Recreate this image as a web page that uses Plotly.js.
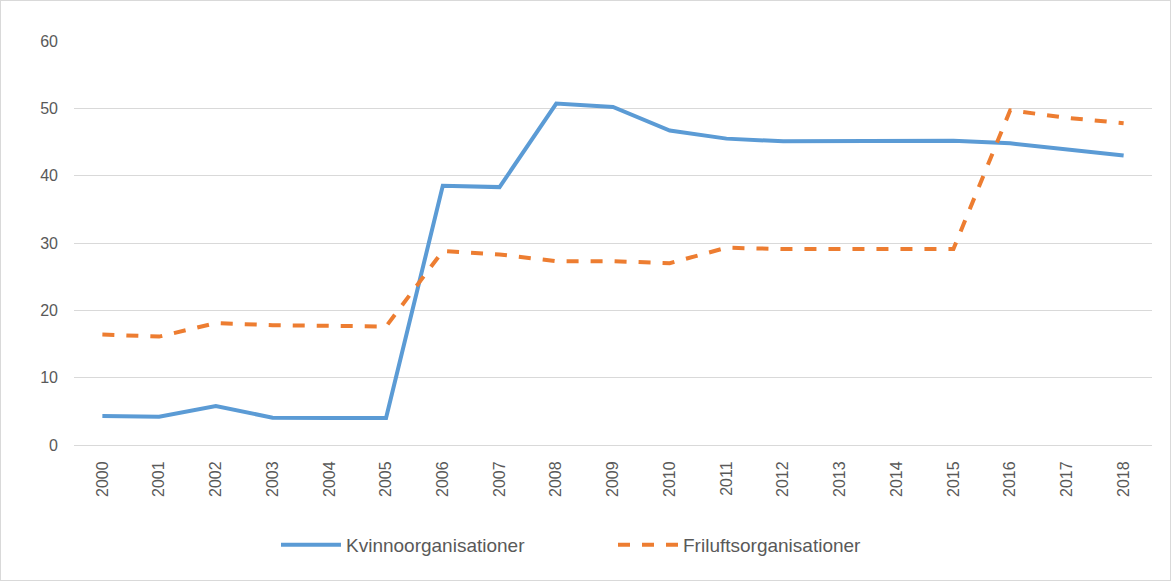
<!DOCTYPE html>
<html>
<head>
<meta charset="utf-8">
<script src="https://cdn.plot.ly/plotly-3.0.1.min.js"></script>
<style>
html,body{margin:0;padding:0;background:#fff;}
#chart{width:1169px;height:579px;border:1px solid #d9d9d9;}
</style>
</head>
<body>
<div id="chart"></div>
<script>
var years = ["2000","2001","2002","2003","2004","2005","2006","2007","2008","2009","2010","2011","2012","2013","2014","2015","2016","2017","2018"];
var kvinno = [4.3,4.2,5.8,4.05,4.0,4.0,38.5,38.3,50.7,50.2,46.7,45.5,45.1,45.1,45.2,45.2,44.8,43.9,43.0];
var frilufts = [16.4,16.1,18.1,17.8,17.7,17.6,28.8,28.3,27.3,27.3,27.0,29.3,29.1,29.1,29.1,29.1,49.7,48.6,47.8];
var yTicks = [0,10,20,30,40,50,60];

var font = "Liberation Sans, Arial, sans-serif";
var traces = [
  {x: years, y: kvinno, type: "scatter", mode: "lines", name: "Kvinnoorganisationer",
   line: {color: "#5b9bd5", width: 4, shape: "linear"}},
  {x: years, y: frilufts, type: "scatter", mode: "lines", name: "Friluftsorganisationer",
   line: {color: "#ed7d31", width: 4, dash: "dash", shape: "linear"}}
];
var layout = {
  width: 1169, height: 579,
  margin: {l: 73, r: 18, t: 40, b: 135},
  paper_bgcolor: "#fff", plot_bgcolor: "#fff",
  font: {family: font, color: "#595959", size: 16},
  showlegend: true,
  legend: {orientation: "h", x: 0.5, xanchor: "center", y: -0.2, yanchor: "top",
           font: {size: 19, color: "#595959"}, itemwidth: 60, entrywidth: 262,
           traceorder: "normal"},
  xaxis: {type: "category", range: [-0.5, 18.5], tickangle: -90, showgrid: false,
          showline: true, linecolor: "#d9d9d9", linewidth: 1, ticks: "",
          ticklabelstandoff: 9,
          tickfont: {size: 16, color: "#595959"}, fixedrange: true},
  yaxis: {range: [0, 60], tickvals: yTicks, showgrid: true, gridcolor: "#d9d9d9", gridwidth: 1,
          zeroline: false, showline: false, ticks: "", ticklen: 0,
          ticklabelstandoff: 15,
          tickfont: {size: 16, color: "#595959"}, fixedrange: true}
};
Plotly.newPlot("chart", traces, layout, {displayModeBar: false, staticPlot: true});
</script>
</body>
</html>
